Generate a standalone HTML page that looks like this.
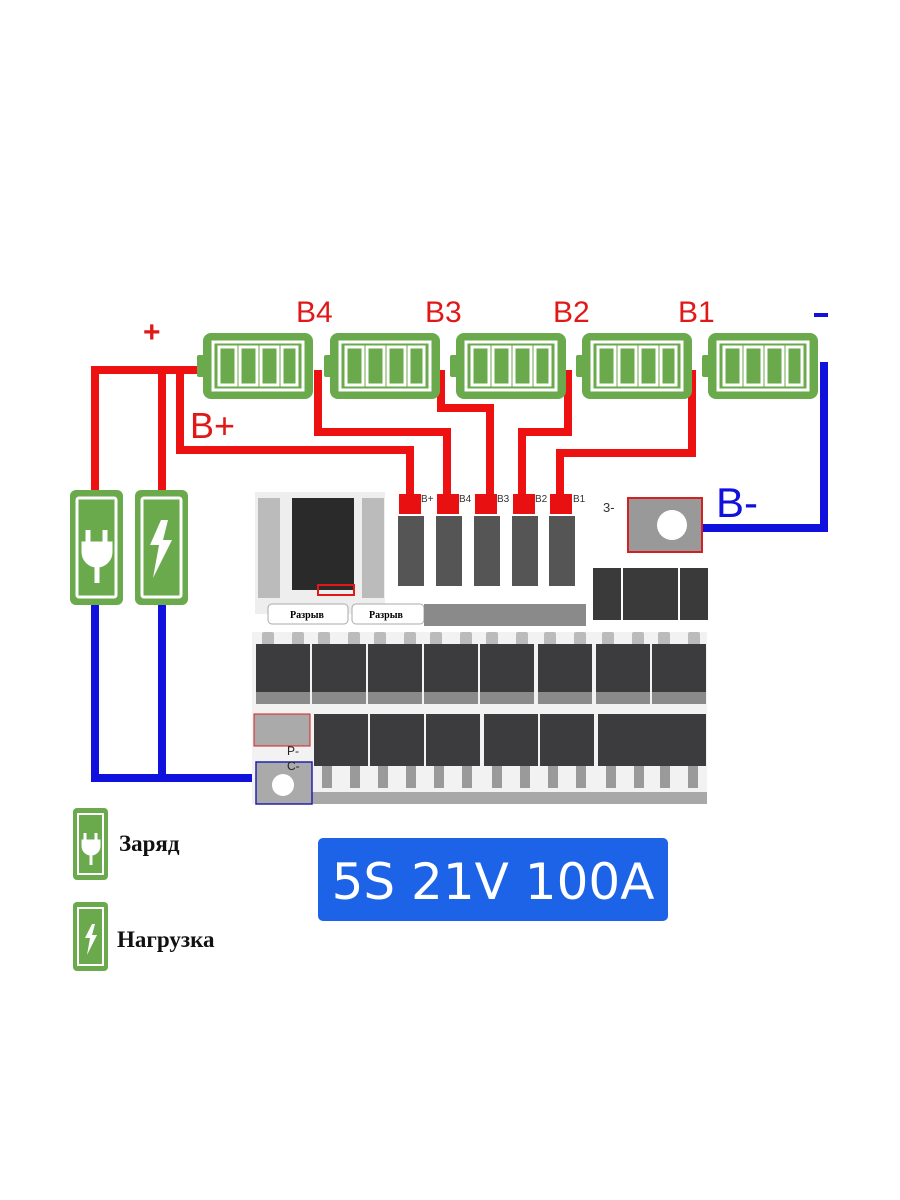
<!DOCTYPE html>
<html><head><meta charset="utf-8"><style>
html,body{margin:0;padding:0;background:#fff;width:900px;height:1200px;overflow:hidden}
</style></head><body>
<svg width="900" height="1200" viewBox="0 0 900 1200" xmlns="http://www.w3.org/2000/svg">
<defs>
<g id="bat">
<rect x="0" y="0" width="110" height="66" rx="8" fill="#6aaa4c"/>
<rect x="-6" y="22" width="8" height="22" rx="2" fill="#6aaa4c"/>
<rect x="10" y="9" width="90" height="48" fill="none" stroke="#fff" stroke-width="3"/>
<rect x="16" y="14" width="17" height="38" fill="none" stroke="#fff" stroke-width="3"/>
<rect x="37" y="14" width="17" height="38" fill="none" stroke="#fff" stroke-width="3"/>
<rect x="58" y="14" width="17" height="38" fill="none" stroke="#fff" stroke-width="3"/>
<rect x="79" y="14" width="15" height="38" fill="none" stroke="#fff" stroke-width="3"/>
</g>
<g id="mos">
<rect x="6" y="0" width="12" height="18" rx="2" fill="#bbb"/>
<rect x="36" y="0" width="12" height="18" rx="2" fill="#bbb"/>
<rect x="0" y="12" width="54" height="60" fill="#3c3c3e"/>
<rect x="0" y="60" width="54" height="12" fill="#8a8a8a"/>
</g>
<g id="mos2">
<rect x="0" y="0" width="54" height="52" fill="#3c3c3e"/>
<rect x="8" y="52" width="10" height="22" fill="#9a9a9a"/>
<rect x="36" y="52" width="10" height="22" fill="#9a9a9a"/>
</g>
</defs>

<g fill="none" stroke="#ee1111" stroke-width="8" stroke-linejoin="miter">
<path d="M205 370 H95 V495"/>
<path d="M162 370 V495"/>
<path d="M180 370 V450 H410 V500"/>
<path d="M318 370 V432 H447 V500"/>
<path d="M441 370 V408 H490 V500"/>
<path d="M568 370 V432 H522 V500"/>
<path d="M692 370 V453 H560 V500"/>
</g>
<g fill="none" stroke="#1111dd" stroke-width="8">
<path d="M820 366 H824 V528 H700"/>
<path d="M95 605 V778 H258"/>
<path d="M162 605 V778"/>
</g>

<use href="#bat" x="203" y="333"/>
<use href="#bat" x="330" y="333"/>
<use href="#bat" x="456" y="333"/>
<use href="#bat" x="582" y="333"/>
<use href="#bat" x="708" y="333"/>

<g font-family="Liberation Sans, sans-serif" fill="#e01818" font-size="30">
<text x="143" y="342" font-weight="bold">+</text>
<text x="296" y="322">B4</text>
<text x="425" y="322">B3</text>
<text x="553" y="322">B2</text>
<text x="678" y="322">B1</text>
<text x="190" y="438" font-size="36">B+</text>
</g>
<rect x="814" y="313" width="14" height="4" fill="#1111dd"/>
<text x="716" y="517" font-family="Liberation Sans, sans-serif" font-size="42" fill="#1111dd">B-</text>

<rect x="70" y="490" width="53" height="115" rx="6" fill="#6aaa4c"/>
<rect x="77" y="498" width="39" height="99" rx="2" fill="none" stroke="#fff" stroke-width="3"/>
<path d="M88 530 v14 M105 530 v14 M84 544 h26 v8 a13 13 0 0 1 -26 0 z M97 565 v18" stroke="#fff" stroke-width="5" fill="#fff"/>
<rect x="135" y="490" width="53" height="115" rx="6" fill="#6aaa4c"/>
<rect x="142" y="498" width="39" height="99" rx="2" fill="none" stroke="#fff" stroke-width="3"/>
<path d="M161 520 L150 545 L159 545 L153 578 L172 540 L163 540 L168 520 Z" fill="#fff"/>

<rect x="255" y="492" width="130" height="122" fill="#eee"/>
<rect x="292" y="498" width="62" height="92" fill="#2a2a2a"/>
<rect x="258" y="498" width="22" height="100" fill="#9a9a9a" opacity="0.6"/>
<rect x="362" y="498" width="22" height="100" fill="#9a9a9a" opacity="0.6"/>
<rect x="318" y="585" width="36" height="10" fill="none" stroke="#e01818" stroke-width="2"/>
<rect x="268" y="604" width="80" height="20" rx="4" fill="#fff" stroke="#aaa"/>
<rect x="352" y="604" width="72" height="20" rx="4" fill="#fff" stroke="#aaa"/>
<text x="290" y="618" font-family="Liberation Serif, serif" font-size="10" font-weight="bold">Разрыв</text>
<text x="369" y="618" font-family="Liberation Serif, serif" font-size="10" font-weight="bold">Разрыв</text>
<rect x="424" y="604" width="162" height="22" fill="#8a8a8a"/>
<g fill="#e81010">
<rect x="399" y="494" width="22" height="20"/>
<rect x="437" y="494" width="22" height="20"/>
<rect x="475" y="494" width="22" height="20"/>
<rect x="513" y="494" width="22" height="20"/>
<rect x="550" y="494" width="22" height="20"/>
</g>
<g font-family="Liberation Sans, sans-serif" font-size="10" fill="#333">
<text x="421" y="502">B+</text><text x="459" y="502">B4</text><text x="497" y="502">B3</text><text x="535" y="502">B2</text><text x="573" y="502">B1</text>
<text x="603" y="512" font-size="13">3-</text>
</g>
<g fill="#555">
<rect x="398" y="516" width="26" height="70"/><rect x="436" y="516" width="26" height="70"/><rect x="474" y="516" width="26" height="70"/><rect x="512" y="516" width="26" height="70"/><rect x="549" y="516" width="26" height="70"/>
</g>
<rect x="628" y="498" width="74" height="54" fill="#999" stroke="#d42020" stroke-width="2"/>
<circle cx="672" cy="525" r="15" fill="#fff"/>
<g fill="#3a3a3a"><rect x="593" y="568" width="28" height="52"/><rect x="623" y="568" width="28" height="52"/><rect x="650" y="568" width="28" height="52"/><rect x="680" y="568" width="28" height="52"/></g>
<rect x="252" y="632" width="455" height="172" fill="#f2f2f2"/>
<use href="#mos" x="256" y="632"/><use href="#mos" x="312" y="632"/><use href="#mos" x="368" y="632"/><use href="#mos" x="424" y="632"/><use href="#mos" x="480" y="632"/><use href="#mos" x="538" y="632"/><use href="#mos" x="596" y="632"/><use href="#mos" x="652" y="632"/>
<use href="#mos2" x="314" y="714"/><use href="#mos2" x="370" y="714"/><use href="#mos2" x="426" y="714"/><use href="#mos2" x="484" y="714"/><use href="#mos2" x="540" y="714"/><use href="#mos2" x="598" y="714"/><use href="#mos2" x="652" y="714"/>
<rect x="254" y="714" width="56" height="32" fill="#aaa" stroke="#d42020" stroke-width="1"/>
<rect x="312" y="792" width="395" height="12" fill="#a8a8a8"/>
<rect x="256" y="762" width="56" height="42" fill="#aaa" stroke="#2222aa" stroke-width="1.5"/>
<circle cx="283" cy="785" r="11" fill="#fff"/>
<text x="287" y="755" font-family="Liberation Sans, sans-serif" font-size="12" fill="#222">P-</text>
<text x="287" y="770" font-family="Liberation Sans, sans-serif" font-size="12" fill="#222">C-</text>

<rect x="73" y="808" width="35" height="72" rx="4" fill="#6aaa4c"/>
<rect x="78" y="814" width="25" height="60" fill="none" stroke="#fff" stroke-width="2"/>
<path d="M85 833 v8 M96 833 v8 M83 841 h16 v5 a8 8 0 0 1 -16 0 z M91 853 v12" stroke="#fff" stroke-width="3" fill="#fff"/>
<rect x="73" y="902" width="35" height="69" rx="4" fill="#6aaa4c"/>
<rect x="78" y="908" width="25" height="57" fill="none" stroke="#fff" stroke-width="2"/>
<path d="M92 924 L85 938 L90 938 L87 955 L97 935 L92 935 L95 924 Z" fill="#fff"/>
<text x="119" y="851" font-family="Liberation Serif, serif" font-weight="bold" font-size="23" fill="#111">Заряд</text>
<text x="117" y="947" font-family="Liberation Serif, serif" font-weight="bold" font-size="23" fill="#111">Нагрузка</text>

<rect x="318" y="838" width="350" height="83" rx="5" fill="#1d63e8"/>
<text x="493" y="899" text-anchor="middle" font-family="DejaVu Sans, sans-serif" font-size="50" fill="#fff">5S 21V 100A</text>
</svg>
</body></html>
